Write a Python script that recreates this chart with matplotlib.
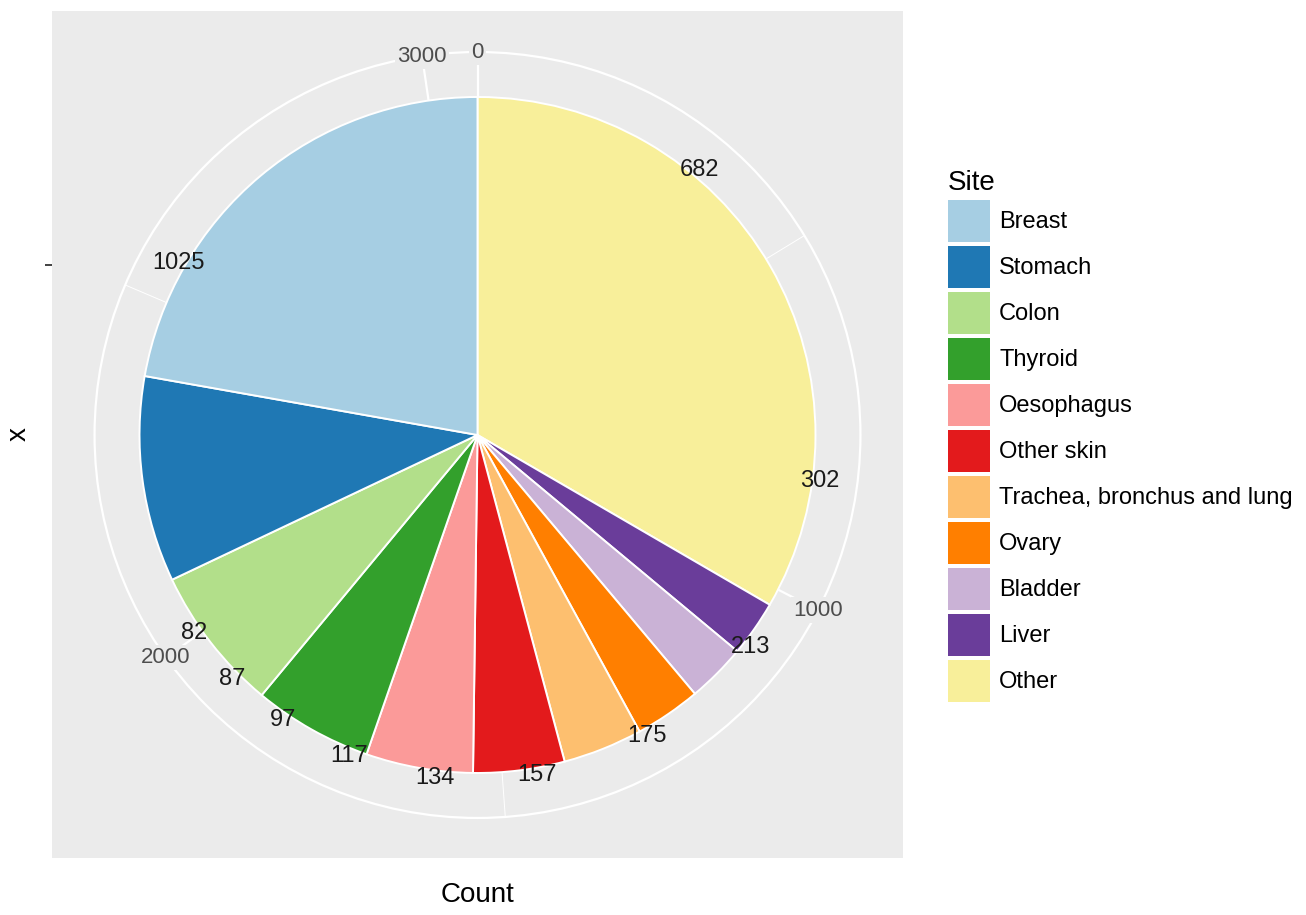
import numpy as np
import matplotlib.pyplot as plt
from matplotlib.patches import Patch, Circle

plt.rcParams['font.family'] = ['Liberation Sans', 'DejaVu Sans']

# data, in legend order
sites = ['Breast', 'Stomach', 'Colon', 'Thyroid', 'Oesophagus', 'Other skin',
         'Trachea, bronchus and lung', 'Ovary', 'Bladder', 'Liver', 'Other']
counts = [682, 302, 213, 175, 157, 134, 117, 97, 87, 82, 1025]
colors = ['#A6CEE3', '#1F78B4', '#B2DF8A', '#33A02C', '#FB9A99', '#E31A1C',
          '#FDBF6F', '#FF7F00', '#CAB2D6', '#6A3D9A', '#F8EF9A']
theta_major = [0, 1000, 2000, 3000]
theta_minor = [500, 1500, 2500]

counts = np.array(counts)
total = counts.sum()
bg = '#EBEBEB'

fig = plt.figure(figsize=(13.06, 9.15), dpi=100)
ax = fig.add_axes([52/1306, 57/915, 851/1306, 847/915])

# slices are stacked in reverse order (clockwise from the top)
ax.pie(counts[::-1], colors=colors[::-1], startangle=90, counterclock=False,
       radius=1, wedgeprops=dict(edgecolor='white', linewidth=1.4))

ax.set_frame_on(True)
ax.set_facecolor(bg)
for s in ax.spines.values():
    s.set_visible(False)
ax.set_aspect('auto')
ax.set_xlim(-1.2589, 1.2589)
ax.set_ylim(-1.2515, 1.2544)

r_out = 1.133
ax.add_patch(Circle((0, 0), r_out, fill=False, ec='white', lw=1.6, zorder=0.5))

def cw(v):
    return 2 * np.pi * v / total

for b in theta_major:
    a = cw(b)
    ax.plot([0, r_out*np.sin(a)], [0, r_out*np.cos(a)], color='white', lw=1.6, zorder=0.5)
    ax.text(r_out*np.sin(a), r_out*np.cos(a), str(b), ha='center', va='center',
            fontsize=16, color='#4D4D4D', zorder=2,
            bbox=dict(boxstyle='square,pad=0.1', fc=bg, ec='none'))
for b in theta_minor:
    a = cw(b)
    ax.plot([0, r_out*np.sin(a)], [0, r_out*np.cos(a)], color='white', lw=0.7, zorder=0.5)

# count labels (placed by cumulative position in legend order)
mid = np.cumsum(counts) - counts / 2
for v, m in zip(counts, mid):
    a = cw(m)
    ax.text(1.022*np.sin(a), 1.022*np.cos(a), str(v), ha='center', va='center',
            fontsize=17, color='#1A1A1A', zorder=3)

ax.set_xticks([])
ax.set_yticks([0.503])
ax.set_yticklabels([''])
ax.tick_params(axis='y', length=5, width=1.3, color='#333333')

ax.set_xlabel('Count', fontsize=20)
ax.xaxis.set_label_coords(0.5, -0.028)
ax.set_ylabel('x', fontsize=20)
ax.yaxis.set_label_coords(-0.024, 0.5)

handles = [Patch(facecolor=c, edgecolor='none') for c in colors]
ax.legend(handles, sites, loc='upper left', bbox_to_anchor=(948/1306, 1 - 170/915),
          bbox_transform=fig.transFigure, frameon=False, fontsize=17,
          title='Site', title_fontsize=20, handlelength=1.78, handleheight=2.36,
          handletextpad=0.38, labelspacing=0.17, borderpad=0, borderaxespad=0,
          alignment='left')

fig.savefig('out.png', dpi=100)
